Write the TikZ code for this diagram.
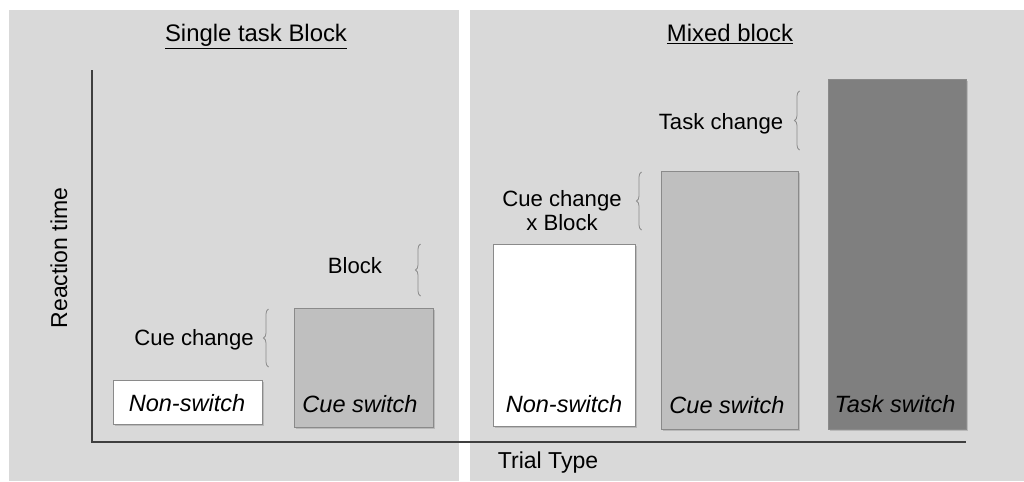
\documentclass[tikz,border=0pt]{standalone}
\usepackage{fontspec}
\setmainfont{Liberation Sans}
\usetikzlibrary{decorations.pathreplacing,shadows}
\definecolor{panelgray}{HTML}{D9D9D9}
\definecolor{barlight}{HTML}{BFBFBF}
\definecolor{bardark}{HTML}{7F7F7F}
\definecolor{barline}{HTML}{8A8A8A}
\definecolor{axisline}{HTML}{3F3F3F}
\definecolor{braceline}{HTML}{8C8C8C}
\tikzset{
  barbox/.style={draw=barline, line width=0.5pt, anchor=north west, inner sep=0pt,
    drop shadow={shadow xshift=0.8pt, shadow yshift=-0.9pt, opacity=0.35}},
  barlabel/.style={font=\fontsize{13.4}{16}\selectfont\itshape, anchor=base, inner sep=0pt},
  bracelabel/.style={font=\fontsize{12.6}{15}\selectfont, anchor=base, inner sep=0pt},
  titlelabel/.style={font=\fontsize{13.6}{16}\selectfont, anchor=base, inner sep=0pt},
  axislabel/.style={font=\fontsize{13.1}{16}\selectfont, inner sep=0pt},
  bracepath/.style={draw=braceline, line width=0.45pt,
    decorate, decoration={brace, amplitude=0.1cm}},
  axispath/.style={draw=axisline, line width=0.6pt}
}
\begin{document}
\begin{tikzpicture}[x=0.02cm, y=-0.02cm]
\useasboundingbox (0,0) rectangle (1024,481);
\fill[white] (0,0) rectangle (1024,481);
\fill[panelgray] (9,10) rectangle (459,481);
\fill[panelgray] (470,10) rectangle (1024,481);

% titles
\node[titlelabel] (t1) at (256,41) {\underline{Single task Block}};
\node[titlelabel] (t2) at (730,41) {\underline{Mixed block}};

% bars left
\node[barbox, fill=white, minimum width=2.98cm, minimum height=0.88cm] (b1) at (113,380) {};
\node[barbox, fill=barlight, minimum width=2.78cm, minimum height=2.38cm] (b2) at (294,308) {};
% bars right
\node[barbox, fill=white, minimum width=2.84cm, minimum height=3.64cm] (b3) at (493,244) {};
\node[barbox, fill=barlight, minimum width=2.74cm, minimum height=5.16cm] (b4) at (661,171) {};
\node[barbox, fill=bardark, minimum width=2.76cm, minimum height=7.00cm] (b5) at (828,79) {};

% bar labels
\node[barlabel] (l1) at (187,411) {Non-switch};
\node[barlabel] (l2) at (360,412) {Cue switch};
\node[barlabel] (l3) at (564,412) {Non-switch};
\node[barlabel] (l4) at (727,413) {Cue switch};
\node[barlabel] (l5) at (895,412) {Task switch};

% axes
\coordinate (ytop) at (92,70);
\coordinate (origin) at (92,442);
\coordinate (xend) at (966,442);
\draw[axispath] (ytop) -- (origin) -- (xend);
\node[axislabel, rotate=90] (ylab) at (59,258) {Reaction time};
\node[axislabel] (xlab) at (548,463) {Trial Type};

% braces
\coordinate (c1a) at (268.5,367); \coordinate (c1b) at (268.5,309);
\coordinate (c2a) at (420.5,296); \coordinate (c2b) at (420.5,244);
\coordinate (c3a) at (799.5,150); \coordinate (c3b) at (799.5,91);
\coordinate (c4a) at (641.5,230); \coordinate (c4b) at (641.5,172);
\draw[bracepath] (c1a) -- (c1b);
\draw[bracepath] (c2a) -- (c2b);
\draw[bracepath] (c3a) -- (c3b);
\draw[bracepath] (c4a) -- (c4b);

\node[bracelabel] (cc) at (194,345) {Cue change};
\node[bracelabel] (bl) at (355,273) {Block};
\node[bracelabel] (tc) at (721,129) {Task change};
\node[bracelabel, align=center, anchor=north] (cb) at (562,190) {Cue change\\[-1pt]x Block};
\end{tikzpicture}
\end{document}
